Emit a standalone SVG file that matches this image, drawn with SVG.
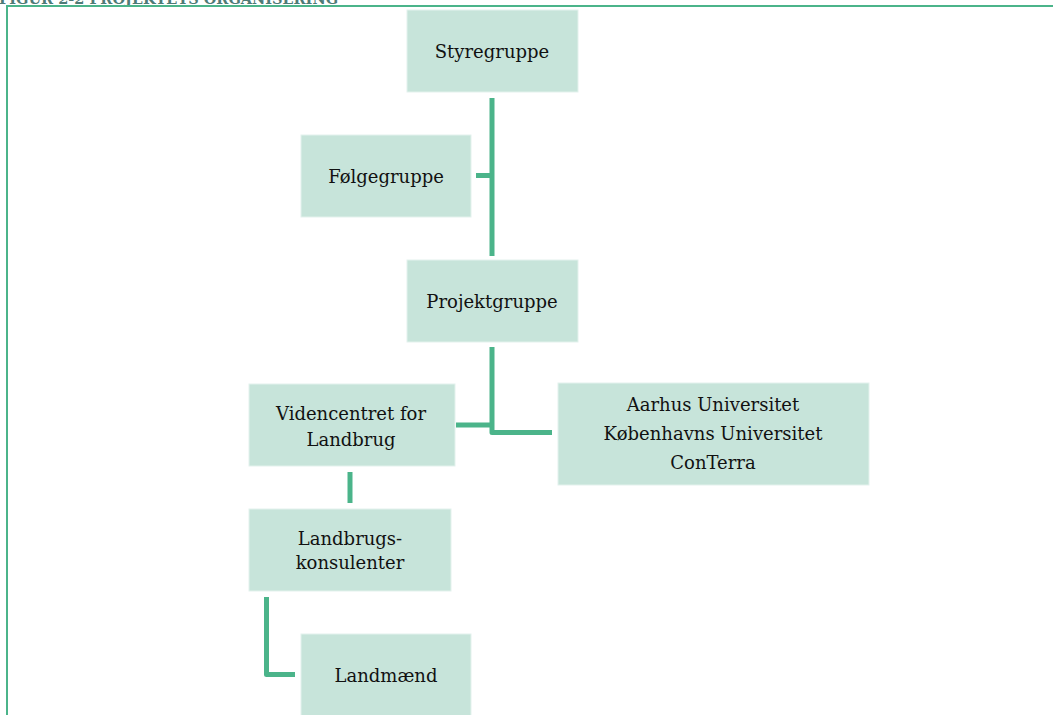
<svg xmlns="http://www.w3.org/2000/svg" width="1053" height="715" viewBox="0 0 1053 715">
<style>
.box{fill:#c7e4da;stroke:#e3f2ed;stroke-width:1}
.lbl{font-family:"DejaVu Serif","Liberation Serif",serif;font-size:18px;fill:#111;text-anchor:middle}
.con{fill:none;stroke:#4bb48a;stroke-width:5;stroke-linecap:butt;stroke-linejoin:round}
.frame{fill:none;stroke:#4bb48a;stroke-width:2}
.title{font-family:"DejaVu Serif","Liberation Serif",serif;font-size:14.5px;font-weight:bold;fill:#4e7b76}
</style>
<rect width="1053" height="715" fill="#fff"/>
<text class="title" x="-1" y="4">FIGUR 2-2 PROJEKTETS ORGANISERING</text>
<path class="frame" d="M7,715 V6 H1053"/>
<g id="connectors">
<path class="con" d="M492,98 V256"/>
<path class="con" d="M476,175.5 H492"/>
<path class="con" d="M492,347 V432.5 H552"/>
<path class="con" d="M456,425 H492"/>
<path class="con" d="M350,472 V503"/>
<path class="con" d="M266.5,597 V674.5 H295"/>
</g>
<g id="styregruppe">
<rect class="box" x="407" y="10" width="171" height="82"/>
<text class="lbl" x="492" y="58">Styregruppe</text>
</g>
<g id="folgegruppe">
<rect class="box" x="301" y="135" width="170" height="82"/>
<text class="lbl" x="386" y="183">Følgegruppe</text>
</g>
<g id="projektgruppe">
<rect class="box" x="407" y="260" width="171" height="82"/>
<text class="lbl" x="492" y="308">Projektgruppe</text>
</g>
<g id="videncentret">
<rect class="box" x="249" y="384" width="206" height="82"/>
<text class="lbl" x="351" y="420">Videncentret for</text>
<text class="lbl" x="351" y="446">Landbrug</text>
</g>
<g id="universiteter">
<rect class="box" x="558" y="383" width="311" height="102"/>
<text class="lbl" x="713" y="411">Aarhus Universitet</text>
<text class="lbl" x="713" y="440">Københavns Universitet</text>
<text class="lbl" x="713" y="469">ConTerra</text>
</g>
<g id="landbrugskonsulenter">
<rect class="box" x="249" y="509" width="202" height="82"/>
<text class="lbl" x="350" y="545">Landbrugs-</text>
<text class="lbl" x="350" y="569">konsulenter</text>
</g>
<g id="landmaend">
<rect class="box" x="301" y="634" width="170" height="82"/>
<text class="lbl" x="386" y="682">Landmænd</text>
</g>
</svg>
